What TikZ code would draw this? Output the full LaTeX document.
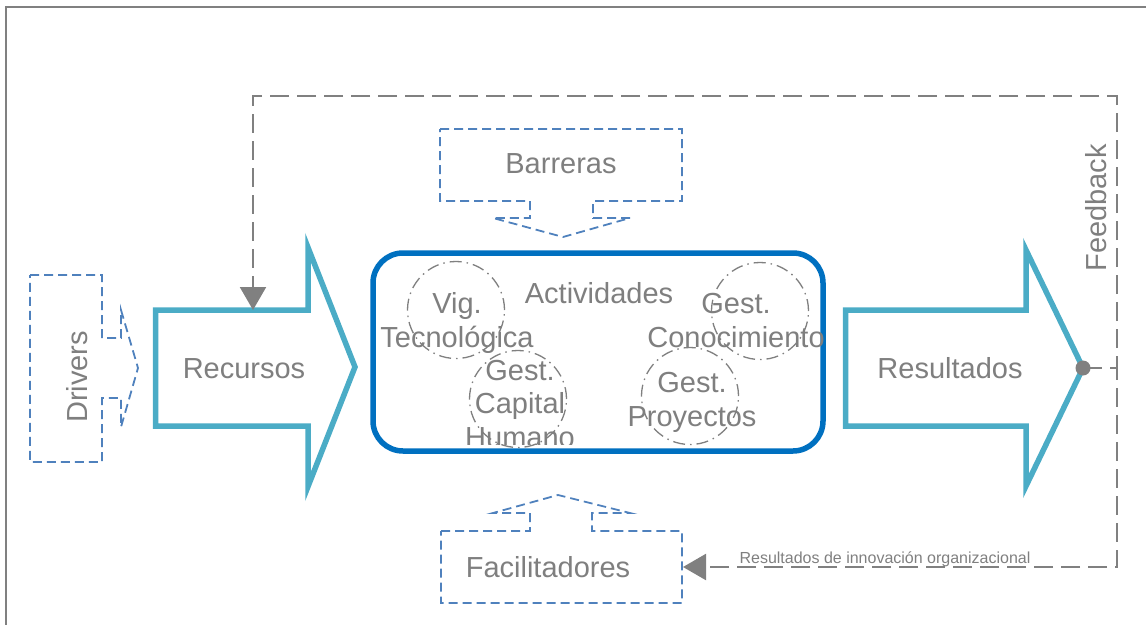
\documentclass[tikz,border=0pt]{standalone}
\usepackage{fontspec}
\setmainfont{Liberation Sans}
\usetikzlibrary{arrows.meta}
\definecolor{cyanar}{HTML}{4BACC6}
\definecolor{actblue}{HTML}{0070C0}
\definecolor{dashblue}{HTML}{4F81BD}
\definecolor{txtgray}{HTML}{7F7F7F}
\definecolor{lngray}{HTML}{808080}
\begin{document}
\begin{tikzpicture}[x=1pt,y=-1pt,
  bigarrow/.style={draw=cyanar, line width=5.5pt, line join=miter, fill=white},
  calloutbox/.style={draw=dashblue, line width=1.8pt, dash pattern=on 9pt off 5pt},
  fbline/.style={draw=lngray, line width=2.2pt, dash pattern=on 19pt off 8pt},
  fbtip/.style={-{Triangle[length=23pt,width=26pt,fill=lngray]}},
  dotmark/.style={circle, fill=lngray, minimum size=15pt, inner sep=0pt},
  ring/.style={circle, draw=lngray, line width=1.3pt, dash pattern=on 12pt off 5pt on 1.5pt off 5pt, minimum size=97pt, inner sep=0pt},
  lbl/.style={text=txtgray, font=\fontsize{29}{33.5}\selectfont, inner sep=0pt, align=center},
  smalllbl/.style={text=txtgray, font=\fontsize{16}{19}\selectfont, inner sep=0pt}
]
\useasboundingbox (0,0) rectangle (1146,624);
% frame
\draw[lngray, line width=2pt] (6,640) -- (6,7) -- (1160,7);

% big arrows
\draw[bigarrow] (155.5,310) -- (308,310) -- (308,247.5) -- (355,367) -- (308,486.5) -- (308,426) -- (155.5,426) -- cycle;
\node[lbl, anchor=base] (recursos) at (244,378) {Recursos};
\draw[bigarrow] (845.5,310) -- (1026,310) -- (1026,250) -- (1083,368) -- (1026,486) -- (1026,426) -- (845.5,426) -- cycle;
\node[lbl, anchor=base] (resultados) at (950,378) {Resultados};

% activities box
\draw[draw=actblue, line width=5.5pt, rounded corners=30pt, fill=white] (373,253) rectangle (823,451);
\node[lbl, anchor=base] (actividades) at (599,303) {Actividades};

% circles
\node[ring] (c1) at (456,310) {};
\node[ring] (c2) at (760,311) {};
\node[ring] (c3) at (518,399) {};
\node[ring] (c4) at (690,396) {};
\node[lbl, anchor=base] (vig) at (457,347) {Vig.\\Tecnológica};
\node[lbl, anchor=base] (gcon) at (736,347) {Gest.\\Conocimiento};
\begin{scope}
\clip (400,340) rectangle (640,444);
\node[lbl, anchor=base] (gcap) at (520,447) {Gest.\\Capital\\Humano};
\end{scope}
\node[lbl, anchor=base] (gpro) at (692,426) {Gest.\\Proyectos};

% callouts
\draw[calloutbox] (440,129) -- (682,129) -- (682,201) -- (593,201) -- (593,218) -- (630,218) -- (563,237) -- (493,218) -- (530,218) -- (530,201) -- (440,201) -- cycle;
\node[lbl, anchor=base] (barreras) at (561,173) {Barreras};
\draw[calloutbox] (441,531) -- (530,531) -- (530,513) -- (493,513) -- (558,495) -- (630,513) -- (592,513) -- (592,531) -- (682,531) -- (682,603) -- (441,603) -- cycle;
\node[lbl, anchor=base] (facil) at (548,577) {Facilitadores};
\draw[calloutbox] (30,275) -- (102,275) -- (102,338) -- (121,338) -- (121,310) -- (138,368) -- (121,427) -- (121,398) -- (102,398) -- (102,462) -- (30,462) -- cycle;
\node[lbl, anchor=base, rotate=90] (drivers) at (87,377) {Drivers};

% feedback connectors
\coordinate (dotc) at (1083,368);
\coordinate (rtop) at (1117,96);
\coordinate (ltop) at (253,96);
\coordinate (rectop) at (253,310);
\coordinate (rbot) at (1117,567);
\coordinate (face) at (683,567);
\draw[fbline, fbtip] (dotc) -| (rtop) -- (ltop) -- (rectop);
\draw[fbline, fbtip] (dotc) -| (rbot) -- (face);
\node[dotmark] (dot) at (dotc) {};
\node[lbl, anchor=base, rotate=90] (feedback) at (1106,208) {Feedback};
\node[smalllbl, anchor=base] (resinn) at (885,563) {Resultados de innovación organizacional};
\end{tikzpicture}
\end{document}
